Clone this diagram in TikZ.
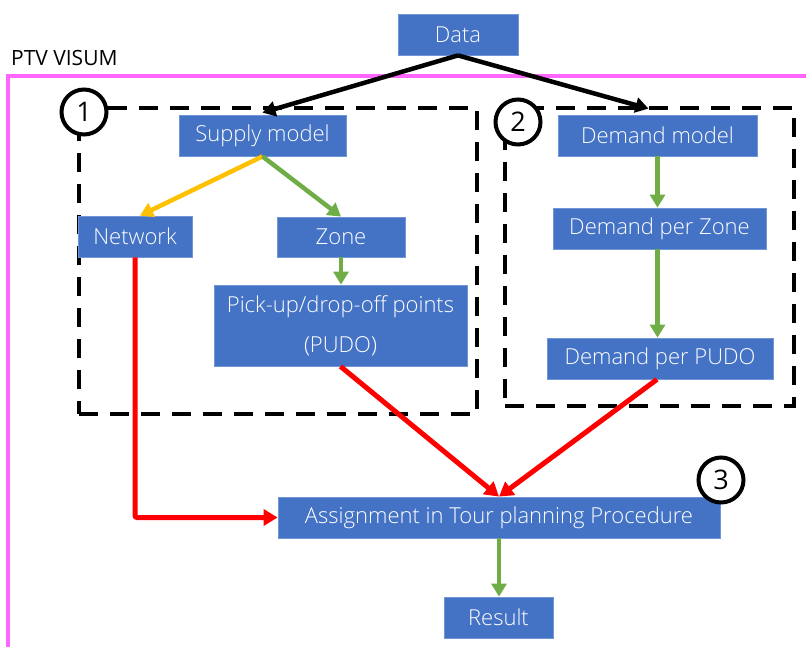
\documentclass[tikz,border=0pt]{standalone}
\usepackage{fontspec}
\setmainfont{Open Sans}
\newfontfamily\boxfont{Open Sans Light}
\usetikzlibrary{arrows.meta,calc}

\definecolor{boxblue}{HTML}{4472C4}
\definecolor{boxedge}{HTML}{7196D8}
\definecolor{flowgreen}{HTML}{70AD47}
\definecolor{floworange}{HTML}{FFC000}
\definecolor{flowred}{HTML}{FF0000}
\definecolor{visumframe}{HTML}{FF66FF}

\begin{document}
\begin{tikzpicture}[x=1pt,y=-1pt,
  box/.style={draw=boxedge, line width=0.8pt, fill=boxblue, text=white,
    inner sep=0pt, minimum height=41pt, font=\boxfont\fontsize{22}{26}\selectfont},
  group/.style={draw=black, line width=4.5pt, dash pattern=on 19pt off 12pt,
    inner sep=0pt},
  numcirc/.style={circle, draw=black, line width=4pt, fill=white,
    minimum size=45pt, inner sep=0pt, font=\fontsize{27}{30}\selectfont},
  blackflow/.style={draw=black, line width=4.5pt, -{Triangle[length=13pt,width=15pt]}},
  greenflow/.style={draw=flowgreen, line width=4.5pt, -{Triangle[length=13pt,width=15pt,fill=flowgreen]}},
  orangeflow/.style={draw=floworange, line width=4.5pt, -{Triangle[length=13pt,width=15pt,fill=floworange]}},
  redflow/.style={draw=flowred, line width=5pt, -{Triangle[length=14pt,width=16pt,fill=flowred]}},
]
\clip (0,0) rectangle (806,646);

% PTV VISUM frame (open to the right and bottom)
\draw[visumframe, line width=4pt] (812,76) -- (8,76) -- (8,652);
\node[anchor=west, inner sep=0pt, font=\fontsize{21}{24}\selectfont] (visum) at (11,58) {PTV VISUM};

% dashed groups
\node[group, minimum width=398pt, minimum height=306pt] (g1) at (278,261) {};
\node[group, minimum width=289pt, minimum height=298pt] (g2) at (649.5,257) {};

% process boxes
\node[box, minimum width=120pt] (data)    at (458,34.5)  {Data};
\node[box, minimum width=167pt] (supply)  at (262.5,135.5) {Supply model};
\node[box, minimum width=114pt] (network) at (135,236.5) {Network};
\node[box, minimum width=128pt, minimum height=40pt] (zone) at (341,237) {Zone};
\node[box, minimum width=253pt, minimum height=81pt, align=center,
      font=\boxfont\fontsize{22}{40}\selectfont] (pudo) at (340.5,325.5)
      {Pick-up/drop-off points\\(PUDO)};
\node[box, minimum width=199pt] (dmodel) at (657.5,135.5) {Demand model};
\node[box, minimum width=213pt] (dzone)  at (659.5,228.5) {Demand per Zone};
\node[box, minimum width=226pt] (dpudo)  at (660,358.5)   {Demand per PUDO};
\node[box, minimum width=442pt] (assign) at (499,517.5)   {Assignment in Tour planning Procedure};
\node[box, minimum width=109pt] (result) at (498.5,617.5) {Result};

% connectors
\draw[blackflow] (data.south) -- ($(supply.north)+(0,-2)$);
\draw[blackflow] (data.south) -- ($(dmodel.north)+(-9,-6)$);
\draw[orangeflow] (supply.south) -- ($(network.north)+(5,0)$);
\draw[greenflow] (supply.south) -- (zone.north);
\draw[greenflow] (zone.south) -- (zone.south |- pudo.north);
\draw[greenflow] (dmodel.south) -- (dmodel.south |- dzone.north);
\draw[greenflow] (dmodel.south |- dzone.south) -- (dmodel.south |- dpudo.north);
\draw[redflow, rounded corners=2pt] (network.south) |- (assign.west);
\draw[redflow] (pudo.south) -- (assign.north);
\draw[redflow] ($(dpudo.south)+(-3,0)$) -- (assign.north);
\draw[greenflow] (assign.south) -- (assign.south |- result.north);

% group numbers
\node[numcirc] (n1) at (84,112)  {1};
\node[numcirc] (n2) at (518,122) {2};
\node[numcirc] (n3) at (721,480) {3};
\end{tikzpicture}
\end{document}
